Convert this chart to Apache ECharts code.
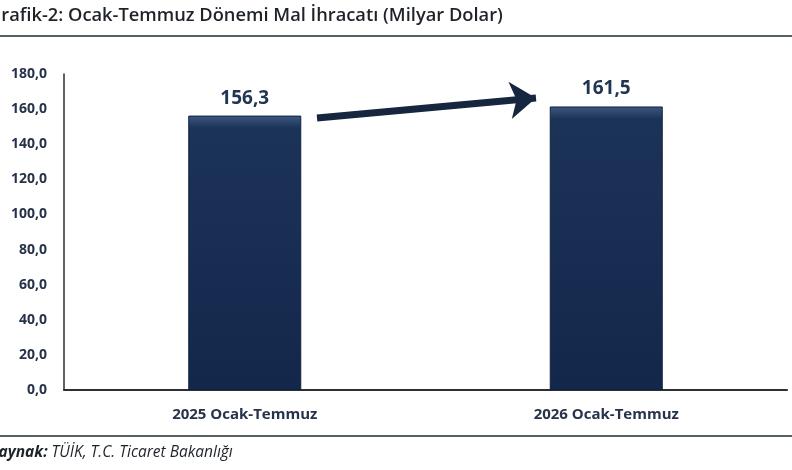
<!DOCTYPE html>
<html>
<head>
<meta charset="utf-8">
<script src="https://cdn.jsdelivr.net/npm/echarts@6/dist/echarts.min.js"></script>
<style>
html,body{margin:0;padding:0;background:#fff;}
#c{width:792px;height:470px;}
</style>
</head>
<body>
<div id="c"></div>
<script>
const titleText = 'Grafik-2: Ocak-Temmuz Dönemi Mal İhracatı (Milyar Dolar)';
const sourceLabel = 'Kaynak:';
const sourceText = ' TÜİK, T.C. Ticaret Bakanlığı';
const categories = ['2025 Ocak-Temmuz', '2026 Ocak-Temmuz'];
const exportValues = [156.3, 161.5];
const yMin = 0, yMax = 180, yStep = 20;

const fmt = v => v.toFixed(1).replace('.', ',');
const FONT = '"Open Sans", Lato, sans-serif';

const chart = echarts.init(document.getElementById('c'), null, {renderer: 'canvas'});
chart.setOption({
  animation: false,
  backgroundColor: '#ffffff',
  grid: {left: 64, right: 5, top: 74, bottom: 80},
  graphic: [
    {type: 'text', left: -12, top: 7, style: {text: titleText, font: '600 18.3px ' + FONT, fill: '#1e2329'}},
    {type: 'line', shape: {x1: 0, y1: 36, x2: 792, y2: 36}, style: {stroke: '#55605f', lineWidth: 2}},
    {type: 'line', shape: {x1: 0, y1: 436, x2: 792, y2: 436}, style: {stroke: '#55605f', lineWidth: 2}},
    {type: 'text', left: -11, top: 445, style: {
      text: '{b|' + sourceLabel + '}{n|' + sourceText + '}',
      rich: {
        b: {font: 'italic 700 15.5px ' + FONT, fill: '#1e2329'},
        n: {font: 'italic 400 15.5px ' + FONT, fill: '#1e2329'}
      }
    }}
  ],
  xAxis: {
    type: 'category',
    data: categories,
    axisLine: {lineStyle: {color: '#2b2f33', width: 2}},
    axisTick: {show: false},
    axisLabel: {color: '#27334a', fontFamily: FONT, fontWeight: 700, fontSize: 15, margin: 17}
  },
  yAxis: {
    type: 'value',
    min: yMin, max: yMax, interval: yStep,
    splitLine: {show: false},
    axisLine: {show: true, lineStyle: {color: '#2b2f33', width: 1.5}},
    axisTick: {show: false},
    axisLabel: {color: '#27334a', fontFamily: FONT, fontWeight: 700, fontSize: 14, margin: 17, formatter: fmt}
  },
  series: [{
    type: 'bar',
    data: exportValues,
    barWidth: 113,
    itemStyle: {
      color: {type: 'linear', x: 0, y: 0, x2: 0, y2: 1, colorStops: [
        {offset: 0, color: '#3d5880'},
        {offset: 0.045, color: '#1c3358'},
        {offset: 1, color: '#13274a'}
      ]},
      borderColor: '#0f2040',
      borderWidth: 1
    },
    label: {
      show: true, position: 'top', distance: 8,
      formatter: p => fmt(p.value),
      color: '#1f3552', fontFamily: FONT, fontWeight: 700, fontSize: 19
    },
    markLine: {
      silent: true,
      symbol: ['none', 'arrow'],
      symbolSize: [28, 26],
      label: {show: false},
      lineStyle: {color: '#16263f', width: 7, type: 'solid'},
      data: [[{x: 317, y: 118}, {x: 536, y: 98}]]
    }
  }]
});
</script>
</body>
</html>
